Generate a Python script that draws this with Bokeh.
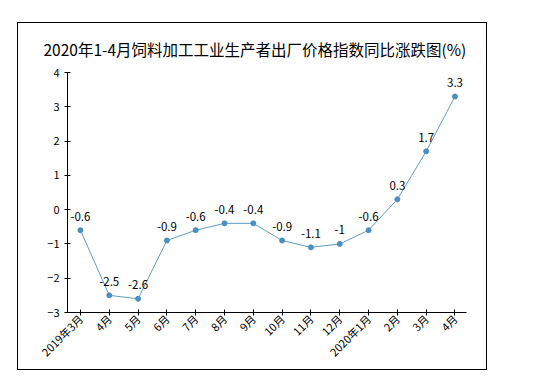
import math
from bokeh.plotting import figure
from bokeh.models import ColumnDataSource, FixedTicker, Range1d
from bokeh.core.properties import value
from bokeh.embed import file_html
from bokeh.resources import INLINE

categories = ["2019年3月", "4月", "5月", "6月", "7月", "8月", "9月", "10月",
              "11月", "12月", "2020年1月", "2月", "3月", "4月"]
values = [-0.6, -2.5, -2.6, -0.9, -0.6, -0.4, -0.4, -0.9, -1.1, -1, -0.6, 0.3, 1.7, 3.3]
labels = ["-0.6", "-2.5", "-2.6", "-0.9", "-0.6", "-0.4", "-0.4", "-0.9", "-1.1", "-1", "-0.6", "0.3", "1.7", "3.3"]
y_ticks = [-3, -2, -1, 0, 1, 2, 3, 4]
y_min, y_max = -3, 4

xs = list(range(len(categories)))
src = ColumnDataSource(dict(x=xs, y=values, lab=labels))

FONT = "Noto Sans CJK SC"

p = figure(width=470, height=348, output_backend="svg", toolbar_location=None,
           x_range=Range1d(-0.45, len(categories) - 1 + 0.4), y_range=Range1d(y_min, y_max),
           min_border_left=49, min_border_right=22, min_border_top=49, min_border_bottom=59,
           title="2020年1-4月饲料加工工业生产者出厂价格指数同比涨跌图(%)",
           margin=0,
           styles={"position": "absolute", "left": "17px", "top": "22px",
                   "border": "1px solid #000"})
p.outline_line_color = None
p.grid.visible = False
p.title.text_font = FONT
p.title.text_font_style = "normal"
p.title.text_font_size = "15.5px"
p.title.text_color = "#000000"
p.title.align = "left"
p.title.offset = -24
p.title.standoff = 25

p.line("x", "y", source=src, line_color="#5f9cc6", line_width=1)
p.scatter("x", "y", source=src, size=5, fill_color="#4a8fc0", line_color="#4a8fc0")
p.text("x", "y", text="lab", source=src, text_align="center", text_baseline="middle",
       y_offset=-14, text_font=value(FONT), text_font_size="11.5px", text_color="#000000")

for ax in (p.xaxis[0], p.yaxis[0]):
    ax.axis_line_color = "#000000"
    ax.major_tick_line_color = "#000000"
    ax.major_tick_in = 3
    ax.major_tick_out = 3
    ax.minor_tick_line_color = None
    ax.major_label_text_font = FONT
    ax.major_label_text_font_size = "11px"
    ax.major_label_text_color = "#000000"

p.yaxis.ticker = FixedTicker(ticks=y_ticks)
p.xaxis.ticker = FixedTicker(ticks=xs)
p.xaxis.major_label_overrides = {i: c for i, c in enumerate(categories)}
p.xaxis.major_label_orientation = math.pi / 4
p.xaxis.major_label_standoff = 1

open("out.html", "w").write(file_html(p, INLINE))
